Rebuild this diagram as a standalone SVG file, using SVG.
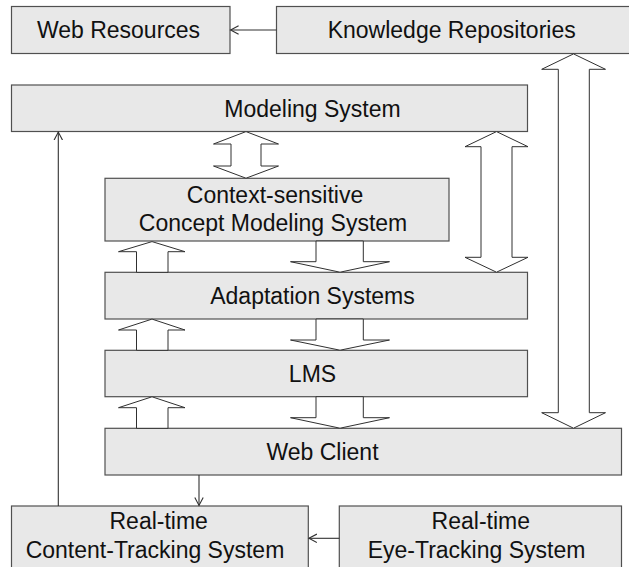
<svg xmlns="http://www.w3.org/2000/svg" width="629" height="567" viewBox="0 0 629 567">
<defs>
<style>
.box{fill:#e8e8e8;stroke:#505050;stroke-width:1.2}
.blk{fill:#ffffff;stroke:#303030;stroke-width:1}
.ln{fill:none;stroke:#303030;stroke-width:1.1}
.t{font-family:"Liberation Sans",Arial,sans-serif;font-size:23px;fill:#111;text-anchor:middle}
</style>
<marker id="oa" markerWidth="10" markerHeight="10" refX="8" refY="5" orient="auto" markerUnits="userSpaceOnUse">
<path d="M0,0.8 L8,5 L0,9.2" fill="none" stroke="#303030" stroke-width="1.1"/>
</marker>
</defs>
<rect width="629" height="567" fill="#ffffff"/>

<g id="web-resources">
<rect class="box" x="11.5" y="6.5" width="218.5" height="47"/>
<text class="t" x="118.5" y="37.7">Web Resources</text>
</g>
<g id="knowledge-repositories">
<rect class="box" x="276.5" y="6.5" width="360" height="47"/>
<text class="t" x="451.7" y="37.7">Knowledge Repositories</text>
</g>
<g id="modeling-system">
<rect class="box" x="11.5" y="85" width="516" height="46.5"/>
<text class="t" x="312.5" y="116.5">Modeling System</text>
</g>
<g id="context-sensitive">
<rect class="box" x="105" y="178.3" width="344" height="62.7"/>
<text class="t" x="275" y="203.3">Context-sensitive</text>
<text class="t" x="273" y="231">Concept Modeling System</text>
</g>
<g id="adaptation-systems">
<rect class="box" x="105" y="272.3" width="422.5" height="46.7"/>
<text class="t" x="312.5" y="304">Adaptation Systems</text>
</g>
<g id="lms">
<rect class="box" x="105" y="350.3" width="422.5" height="46.4"/>
<text class="t" x="312.5" y="381.7">LMS</text>
</g>
<g id="web-client">
<rect class="box" x="105" y="428.3" width="516.5" height="46.7"/>
<text class="t" x="322.5" y="459.8">Web Client</text>
</g>
<g id="content-tracking">
<rect class="box" x="11.5" y="506" width="296.8" height="70"/>
<text class="t" x="158.7" y="529.3">Real-time</text>
<text class="t" x="155" y="558.3">Content-Tracking System</text>
</g>
<g id="eye-tracking">
<rect class="box" x="339.3" y="506" width="282.2" height="70"/>
<text class="t" x="480.8" y="529.3">Real-time</text>
<text class="t" x="476.5" y="558.3">Eye-Tracking System</text>
</g>

<g id="connectors">
<line class="ln" x1="276.5" y1="30" x2="230.6" y2="30" marker-end="url(#oa)"/>
<line class="ln" x1="58.3" y1="506" x2="58.3" y2="132.1" marker-end="url(#oa)"/>
<line class="ln" x1="199" y1="475" x2="199" y2="505.4" marker-end="url(#oa)"/>
<line class="ln" x1="339.3" y1="538.3" x2="308.9" y2="538.3" marker-end="url(#oa)"/>

<polygon class="blk" points="246,131.6 278.5,144 261,144 261,166 278.5,166 246,178.2 213.5,166 231,166 231,144 213.5,144"/>
<polygon class="blk" points="496.5,131.6 528,146.7 512,146.7 512,257.3 528,257.3 496.5,272.2 465,257.3 481,257.3 481,146.7 465,146.7"/>
<polygon class="blk" points="573.5,53.9 605.5,69.3 589.3,69.3 589.3,412.7 605.5,412.7 573.5,428.2 541.7,412.7 558.3,412.7 558.3,69.3 541.7,69.3"/>

<polygon class="blk" points="152,241.6 185,251.7 168,251.7 168,272.3 136.5,272.3 136.5,251.7 118.5,251.7"/>
<polygon class="blk" points="152,319.1 185,330 168,330 168,350.3 136.5,350.3 136.5,330 118.5,330"/>
<polygon class="blk" points="152,396.8 185,407.7 168,407.7 168,428.3 136.5,428.3 136.5,407.7 118.5,407.7"/>

<polygon class="blk" points="316,241 363.3,241 363.3,261.7 389.5,261.7 340,272.2 290.5,261.7 316,261.7"/>
<polygon class="blk" points="316,319 363.3,319 363.3,340 389.5,340 340,350.2 290.5,340 316,340"/>
<polygon class="blk" points="316,396.7 363.3,396.7 363.3,417.7 389.5,417.7 340,428.2 290.5,417.7 316,417.7"/>
</g>
</svg>
